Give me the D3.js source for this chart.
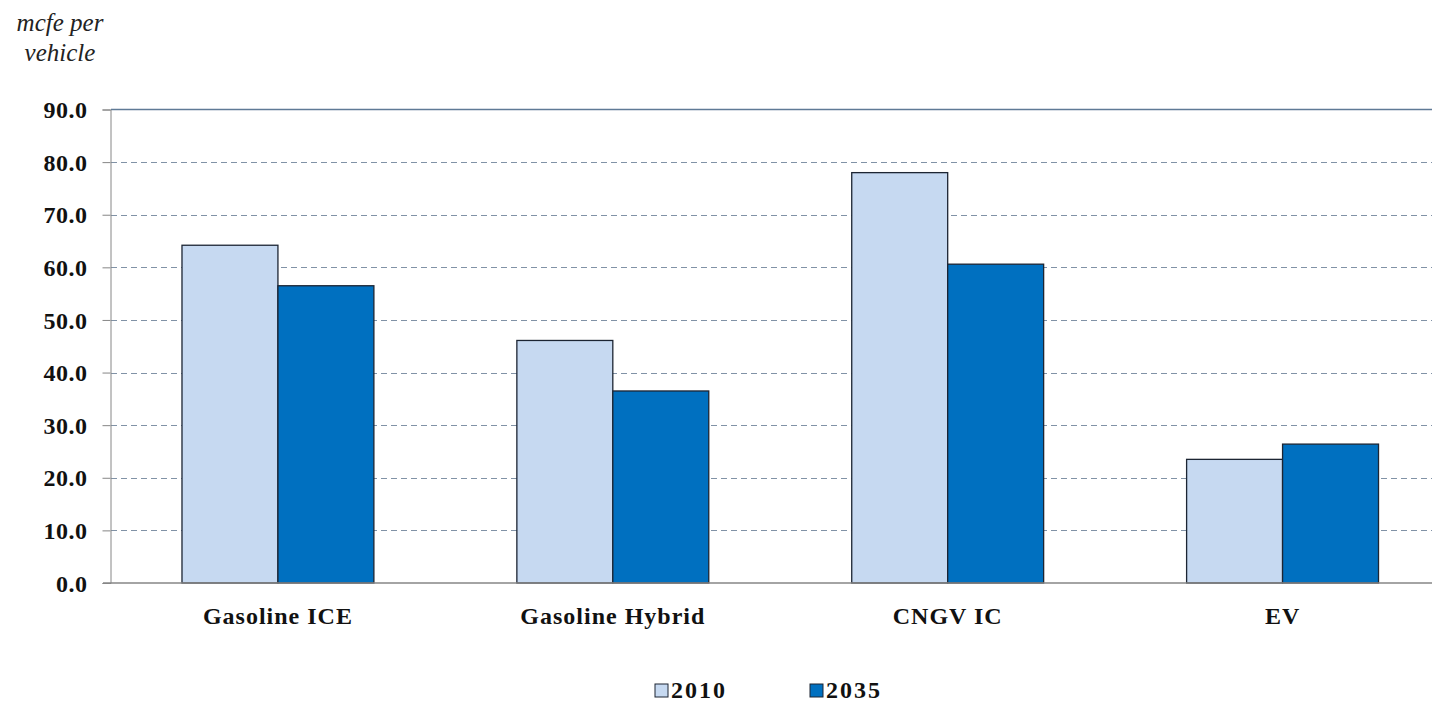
<!DOCTYPE html>
<html>
<head>
<meta charset="utf-8">
<script src="https://cdn.jsdelivr.net/npm/d3@7"></script>
<style>
  body { margin: 0; background: #fff; }
  text { font-family: "Liberation Serif", "Times New Roman", serif; }
</style>
</head>
<body>
<div id="vis"></div>
<script>
// chart data
var categories = ["Gasoline ICE", "Gasoline Hybrid", "CNGV IC", "EV"];
var seriesNames = ["2010", "2035"];
var values2010 = [64.2, 46.1, 78.0, 23.5];
var values2035 = [56.5, 36.5, 60.6, 26.4];
var yTicks = [0, 10, 20, 30, 40, 50, 60, 70, 80, 90];

var width = 1432, height = 702;
var colors = { "2010": "#c6d9f1", "2035": "#0070c0" };

var svg = d3.select("#vis").append("svg")
	.attr("width", width)
	.attr("height", height);

// plot goes a bit past the right edge, like the original picture
var x = d3.scaleBand()
	.domain(categories)
	.range([110.5, 1450])
	.paddingInner(0)
	.paddingOuter(0);

var x1 = d3.scaleBand()
	.domain(seriesNames)
	.range([0, x.bandwidth()])
	.paddingInner(0)
	.paddingOuter(0.745);

var y = d3.scaleLinear()
	.domain([0, 90])
	.range([583, 109.5]);

// gridlines
svg.append("g")
	.selectAll("line")
	.data(yTicks.filter(function(d){ return d > 0 && d < 90; }))
	.enter().append("line")
	.attr("x1", 111).attr("x2", width)
	.attr("y1", function(d){ return Math.round(y(d)) + 0.5; })
	.attr("y2", function(d){ return Math.round(y(d)) + 0.5; })
	.attr("stroke", "#8192a6")
	.attr("stroke-width", 1)
	.attr("stroke-dasharray", "6,4");

// top border
svg.append("line")
	.attr("x1", 111).attr("x2", width)
	.attr("y1", y(90)).attr("y2", y(90))
	.attr("stroke", "#5f7a96")
	.attr("stroke-width", 1.5);

// y axis
var yAxis = d3.axisLeft(y)
	.tickValues(yTicks)
	.tickSize(8)
	.tickPadding(15)
	.tickFormat(d3.format(".1f"));

var gy = svg.append("g")
	.attr("transform", "translate(110.5,0)")
	.call(yAxis);
gy.select(".domain").attr("stroke", "#868686");
gy.selectAll(".tick line").attr("stroke", "#868686");
gy.selectAll(".tick text")
	.attr("fill", "#111")
	.style("font-family", "'Liberation Serif', serif")
	.style("font-weight", "bold")
	.style("font-size", "24px")
	.style("letter-spacing", "0.5px")
	.attr("dy", "0.34em");

// bars
var groups = svg.append("g").selectAll("g")
	.data(categories)
	.enter().append("g")
	.attr("transform", function(d){ return "translate(" + x(d) + ",0)"; });

groups.selectAll("rect")
	.data(function(d, i){
		return [
			{ series: "2010", value: values2010[i] },
			{ series: "2035", value: values2035[i] }
		];
	})
	.enter().append("rect")
	.attr("x", function(d){ return x1(d.series); })
	.attr("width", x1.bandwidth())
	.attr("y", function(d){ return y(d.value); })
	.attr("height", function(d){ return y(0) - y(d.value); })
	.attr("fill", function(d){ return colors[d.series]; })
	.attr("stroke", "#1c2533")
	.attr("stroke-width", 1.3);

// x axis baseline
svg.append("line")
	.attr("x1", 103).attr("x2", width)
	.attr("y1", y(0)).attr("y2", y(0))
	.attr("stroke", "#868686")
	.attr("stroke-width", 1.5);

// category labels
svg.append("g").selectAll("text")
	.data(categories)
	.enter().append("text")
	.attr("x", function(d){ return x(d) + x.bandwidth() / 2; })
	.attr("y", 624)
	.attr("text-anchor", "middle")
	.attr("fill", "#111")
	.style("font-weight", "bold")
	.style("font-size", "24px")
	.style("letter-spacing", "1px")
	.text(function(d){ return d; });

// y axis title
var title = svg.append("text")
	.attr("text-anchor", "middle")
	.attr("fill", "#222")
	.style("font-style", "italic")
	.style("font-size", "25px");
title.append("tspan").attr("x", 60).attr("y", 31).text("mcfe per");
title.append("tspan").attr("x", 60).attr("y", 61).text("vehicle");

// legend
var legendX = [655, 810];
var legend = svg.append("g").selectAll("g")
	.data(seriesNames)
	.enter().append("g")
	.attr("transform", function(d, i){ return "translate(" + legendX[i] + ",684)"; });

legend.append("rect")
	.attr("width", 13).attr("height", 13)
	.attr("fill", function(d){ return colors[d]; })
	.attr("stroke", "#1c2533")
	.attr("stroke-width", 1);

legend.append("text")
	.attr("x", 16)
	.attr("y", 14)
	.attr("fill", "#111")
	.style("font-weight", "bold")
	.style("font-size", "24px")
	.style("letter-spacing", "2px")
	.text(function(d){ return d; });
</script>
</body>
</html>
